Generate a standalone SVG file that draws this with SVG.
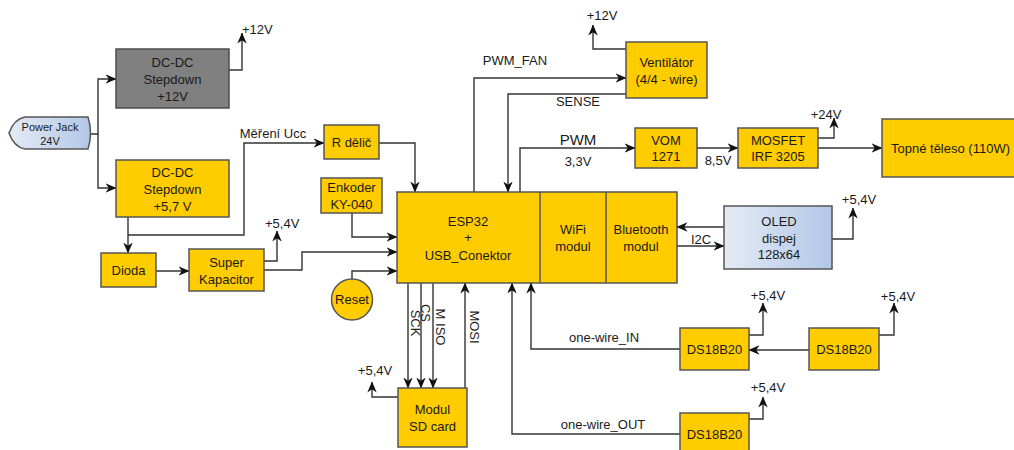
<svg xmlns="http://www.w3.org/2000/svg" width="1014" height="450" viewBox="0 0 1014 450">
<style>
.box{fill:#ffcc00;stroke:#555555;stroke-width:1.5}
.t{font-family:"Liberation Sans",Arial,sans-serif;font-size:13px;fill:#1a1a1a;text-anchor:middle}
.ts{font-family:"Liberation Sans",Arial,sans-serif;font-size:13px;fill:#1a1a1a}
.w{fill:none;stroke:#333333;stroke-width:1.4}
.a{marker-end:url(#arr)}
</style>
<defs>
<marker id="arr" viewBox="0 0 11 10" refX="10.5" refY="5" markerWidth="11" markerHeight="10" markerUnits="userSpaceOnUse" orient="auto">
<path d="M0,0.3 L11,5 L0,9.7 L3.3,5 Z" fill="#111111"/>
</marker>
<linearGradient id="blue" x1="0" y1="0" x2="1" y2="0">
<stop offset="0" stop-color="#e4ebf6"/>
<stop offset="1" stop-color="#b2c7e6"/>
</linearGradient>
</defs>
<rect width="1014" height="450" fill="#ffffff"/>

<g id="connectors">
<path class="w a" d="M91,134 H98 V79 H116"/>
<path class="w a" d="M98,134 V188 H116"/>
<path class="w a" d="M229,70 H242 V33"/>
<path class="w a" d="M128,217 V253"/>
<path class="w a" d="M128,235 H244 V143 H324"/>
<path class="w a" d="M156,271 H189"/>
<path class="w a" d="M264,261 H277 V231"/>
<path class="w a" d="M264,270 H302 V252 H397"/>
<path class="w a" d="M352,213 V237 H397"/>
<path class="w a" d="M352,279 V271 H397"/>
<path class="w a" d="M379,143 H415 V192"/>
<path class="w a" d="M474,192 V78 H626"/>
<path class="w a" d="M626,94 H508 V192"/>
<path class="w a" d="M626,49 H593 V25"/>
<path class="w a" d="M520,192 V148 H635"/>
<path class="w a" d="M697,148 H738"/>
<path class="w a" d="M818,138 H834 V118"/>
<path class="w a" d="M818,148 H882"/>
<path class="w a" d="M724,227 H677"/>
<path class="w a" d="M677,246 H724"/>
<path class="w a" d="M832,239 H853 V208"/>
<path class="w a" d="M680,349 H531 V283"/>
<path class="w a" d="M809,350 H749"/>
<path class="w a" d="M749,335 H763 V303"/>
<path class="w a" d="M879,335 H894 V303"/>
<path class="w a" d="M680,434 H512 V283"/>
<path class="w a" d="M749,419 H763 V397"/>
<path class="w a" d="M408,283 V388"/>
<path class="w a" d="M421,283 V388"/>
<path class="w a" d="M433,283 V388"/>
<path class="w a" d="M465,388 V283"/>
<path class="w a" d="M398,397 H372 V382"/>

<text class="ts" x="242" y="34">+12V</text>
<text class="t" x="273" y="138">Měření Ucc</text>
<text class="ts" x="265" y="228">+5,4V</text>
<text class="t" x="515" y="65">PWM_FAN</text>
<text class="t" x="578" y="106">SENSE</text>
<text class="t" x="602" y="20">+12V</text>
<text class="t" x="578" y="145" style="font-size:15px">PWM</text>
<text class="t" x="578" y="166">3,3V</text>
<text class="t" x="718" y="165">8,5V</text>
<text class="t" x="826" y="119">+24V</text>
<text class="t" x="701" y="244">I2C</text>
<text class="t" x="859" y="204">+5,4V</text>
<text class="t" x="604" y="342">one-wire_IN</text>
<text class="t" x="768" y="300">+5,4V</text>
<text class="t" x="898" y="301">+5,4V</text>
<text class="t" x="603" y="429">one-wire_OUT</text>
<text class="t" x="768" y="392">+5,4V</text>
<text class="t" x="375" y="375">+5,4V</text>
<text class="t" transform="translate(415,323) rotate(90)" x="0" y="4.5">SCK</text>
<text class="t" transform="translate(425,313) rotate(90)" x="0" y="4.5">CS</text>
<text class="t" transform="translate(440,327) rotate(90)" x="0" y="4.5">M ISO</text>
<text class="t" transform="translate(474,327) rotate(90)" x="0" y="4.5">MOSI</text>
</g>

<g id="power-jack">
<path d="M25,117 L88,117 Q93,133 88,149 L25,149 Q14,147 9,133 Q14,119 25,117 Z" fill="url(#blue)" stroke="#555555" stroke-width="1.5"/>
<text class="t" x="50" y="131" style="font-size:11px">Power Jack</text>
<text class="t" x="50" y="145" style="font-size:11px">24V</text>
</g>

<g id="dcdc-12">
<rect x="116" y="49" width="113" height="59" fill="#808080" stroke="#4d4d4d" stroke-width="1.5"/>
<text class="t" x="172.5" y="67">DC-DC</text>
<text class="t" x="172.5" y="84">Stepdown</text>
<text class="t" x="172.5" y="101">+12V</text>
</g>

<g id="dcdc-57">
<rect class="box" x="116" y="160" width="113" height="57"/>
<text class="t" x="172.5" y="177">DC-DC</text>
<text class="t" x="172.5" y="194">Stepdown</text>
<text class="t" x="172.5" y="211">+5,7 V</text>
</g>

<g id="dioda">
<rect class="box" x="101" y="253" width="55" height="34"/>
<text class="t" x="128.5" y="275">Dioda</text>
</g>

<g id="superkap">
<rect class="box" x="189" y="249" width="75" height="42"/>
<text class="t" x="226.5" y="267">Super</text>
<text class="t" x="226.5" y="284">Kapacitor</text>
</g>

<g id="r-delic">
<rect class="box" x="324" y="125" width="55" height="34"/>
<text class="t" x="351.5" y="147">R dělič</text>
</g>

<g id="enkoder">
<rect class="box" x="321" y="178" width="61" height="35"/>
<text class="t" x="351.5" y="192">Enkoder</text>
<text class="t" x="351.5" y="209">KY-040</text>
</g>

<g id="reset">
<circle cx="352" cy="299.5" r="20.5" fill="#ffcc00" stroke="#555555" stroke-width="1.5"/>
<text class="t" x="352" y="304">Reset</text>
</g>

<g id="esp32">
<rect class="box" x="397" y="192" width="280" height="91"/>
<line x1="540" y1="192" x2="540" y2="283" stroke="#555555" stroke-width="1.5"/>
<line x1="606" y1="192" x2="606" y2="283" stroke="#555555" stroke-width="1.5"/>
<text class="t" x="468" y="226">ESP32</text>
<text class="t" x="468" y="242">+</text>
<text class="t" x="468" y="260">USB_Conektor</text>
<text class="t" x="573" y="234">WiFi</text>
<text class="t" x="573" y="251">modul</text>
<text class="t" x="641" y="234">Bluetooth</text>
<text class="t" x="641" y="251">modul</text>
</g>

<g id="sd-card">
<rect class="box" x="398" y="388" width="69" height="59"/>
<text class="t" x="432.5" y="414">Modul</text>
<text class="t" x="432.5" y="431">SD card</text>
</g>

<g id="ventilator">
<rect class="box" x="626" y="42" width="81" height="56"/>
<text class="t" x="666.5" y="67">Ventilátor</text>
<text class="t" x="666.5" y="84">(4/4 - wire)</text>
</g>

<g id="vom">
<rect class="box" x="635" y="128" width="62" height="40"/>
<text class="t" x="666" y="145">VOM</text>
<text class="t" x="666" y="161">1271</text>
</g>

<g id="mosfet">
<rect class="box" x="738" y="128" width="80" height="40"/>
<text class="t" x="778" y="145">MOSFET</text>
<text class="t" x="778" y="161">IRF 3205</text>
</g>

<g id="topne-teleso">
<rect class="box" x="882" y="119" width="145" height="58"/>
<text class="ts" x="891" y="153">Topné těleso (110W)</text>
</g>

<g id="oled">
<rect x="724" y="206" width="108" height="63" fill="url(#blue)" stroke="#555555" stroke-width="1.5"/>
<text class="t" x="779" y="226">OLED</text>
<text class="t" x="779" y="243">dispej</text>
<text class="t" x="779" y="259">128x64</text>
</g>

<g id="ds18b20-1">
<rect class="box" x="680" y="328" width="69" height="42"/>
<text class="t" x="714.5" y="354">DS18B20</text>
</g>

<g id="ds18b20-2">
<rect class="box" x="809" y="328" width="70" height="42"/>
<text class="t" x="844" y="354">DS18B20</text>
</g>

<g id="ds18b20-3">
<rect class="box" x="680" y="413" width="69" height="42"/>
<text class="t" x="714.5" y="439">DS18B20</text>
</g>
</svg>
